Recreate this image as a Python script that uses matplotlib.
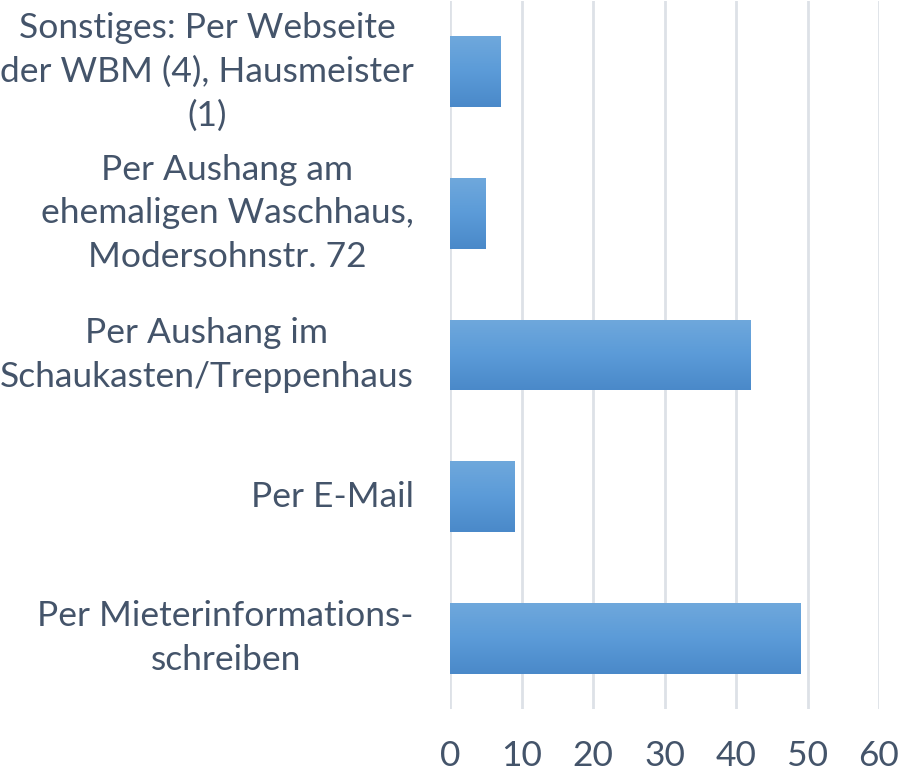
import numpy as np
import matplotlib.pyplot as plt
from matplotlib.colors import LinearSegmentedColormap

# data
labels = [
    "Per Mieterinformations-\nschreiben",
    "Per E-Mail",
    "Per Aushang im\nSchaukasten/Treppenhaus",
    "Per Aushang am\nehemaligen Waschhaus,\nModersohnstr. 72",
    "Sonstiges: Per Webseite\nder WBM (4), Hausmeister\n(1)",
]
values = [49, 9, 42, 5, 7]
xticks = [0, 10, 20, 30, 40, 50, 60]

text_col = "#44546a"
grad = LinearSegmentedColormap.from_list("g", ["#4a89c9", "#5b9bd8", "#6fa8dc"])

plt.rcParams['font.family'] = ['Lato', 'DejaVu Sans']

fig = plt.figure(figsize=(9, 7.71), dpi=100)
ax = fig.add_axes([450/900, 1 - 709/771, 429/900, 708/771])

pos = np.arange(len(values))
bars = ax.barh(pos, values, height=0.5, color='none', edgecolor='none', zorder=2)

# vertical gradient fill for each bar
g = np.linspace(0, 1, 256).reshape(-1, 1)
for b in bars:
    x0, y0 = b.get_x(), b.get_y()
    w, h = b.get_width(), b.get_height()
    im = ax.imshow(g, cmap=grad, aspect='auto', origin='lower',
                   extent=[x0, x0 + w, y0, y0 + h], zorder=2)
    im.set_clip_path(b)

ax.set_xlim(0, 60)
ax.set_ylim(-0.5, len(values) - 0.5)
ax.set_xticks(xticks)
ax.set_yticks(pos)
ax.set_yticklabels(labels, multialignment='center', linespacing=1.45, va='center')
ax.xaxis.grid(True, color='#dde1e7', linewidth=2, zorder=0)
ax.set_axisbelow(True)
for s in ax.spines.values():
    s.set_visible(False)
ax.tick_params(axis='both', length=0, labelsize=25.5, labelcolor=text_col)
ax.tick_params(axis='x', pad=22.5)
ax.tick_params(axis='y', pad=26)

fig.savefig("out.png", dpi=100)
